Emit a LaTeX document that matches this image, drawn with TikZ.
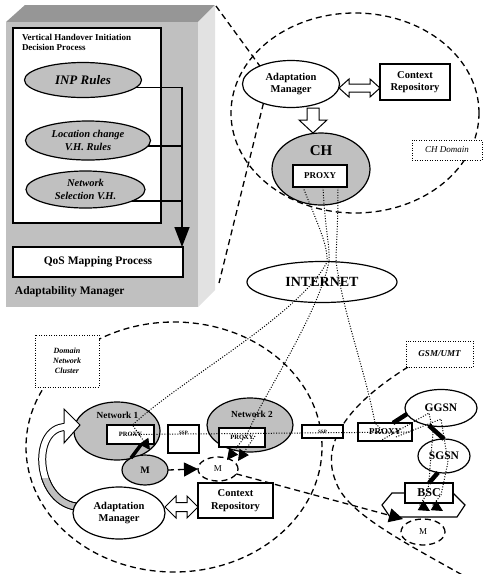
\documentclass[tikz,border=0pt]{standalone}
\usepackage{fontspec}
\setmainfont{Liberation Serif}
\usetikzlibrary{shapes.geometric,arrows.meta,calc}
\definecolor{gfill}{RGB}{192,192,192}
\definecolor{gtop}{RGB}{150,150,150}
\definecolor{gside}{RGB}{226,226,226}
\newcommand{\fsz}[2]{\fontsize{#1}{#2}\selectfont}
% hollow double arrow: x1 x2 y headhalf shafthalf headlength
\newcommand{\hdbl}[6]{\draw[fill=white, line width=1pt] (#1,#3) -- (#1+#6,#3-#4) -- (#1+#6,#3-#5) -- (#2-#6,#3-#5) -- (#2-#6,#3-#4) -- (#2,#3) -- (#2-#6,#3+#4) -- (#2-#6,#3+#5) -- (#1+#6,#3+#5) -- (#1+#6,#3+#4) -- cycle;}
\begin{document}
\begin{tikzpicture}[x=1pt,y=-1pt,
  every node/.style={inner sep=0pt, outer sep=0pt},
  ell/.style={ellipse, draw, line width=1.2pt},
  gell/.style={ell, fill=gfill},
  wbox/.style={rectangle, draw, fill=white, line width=1.2pt},
  dsh/.style={line width=1.3pt, dash pattern=on 6pt off 4pt},
  dotl/.style={line width=1pt, dash pattern=on 1pt off 1.6pt},
  lbox/.style={rectangle, draw, fill=white, line width=1pt, dash pattern=on 1pt off 1.5pt},
  thk/.style={line width=1.5pt},
  bfs/.style 2 args={font=\fsz{#1}{#2}\bfseries},
  arr/.style={-{Triangle[length=#1,width=#1]}},
]
\useasboundingbox (0,0) rectangle (483,574);
\clip (0,0) rectangle (483,574);
\fill[white] (0,0) rectangle (483,574);

% ---------- 3D box
\fill[gtop] (6,22) -- (25,5) -- (215,5) -- (198,22) -- cycle;
\fill[gside] (198,22) -- (215,5) -- (215,290) -- (198,307) -- cycle;
\fill[gfill] (6,22) rectangle (198,307);

% ---------- domain ellipses
\node[ell, dsh, minimum width=248, minimum height=200] (chdom) at (355,113) {};
\node[ell, dsh, minimum width=296, minimum height=250] (dnc) at (174,447) {};
\coordinate (gsm0) at (408,367);
\coordinate (gsm1) at (336,482);
\coordinate (gsm2) at (466,577);
\draw[dsh] (gsm0) .. controls (355,400) and (318,440) .. (gsm1) .. controls (346,512) and (400,540) .. (gsm2);

% ---------- left block
\node[wbox, minimum width=148, minimum height=195] (vh) at (87,125.5) {};
\node[anchor=north west, align=left, bfs={9}{10.5}] (vht) at (22,34) {Vertical Handover Initiation\\Decision Process};
\node[gell, minimum width=117, minimum height=35, font=\fsz{13}{14}\bfseries\itshape] (inp) at (83,80) {INP Rules};
\node[gell, minimum width=125, minimum height=39, align=center, font=\fsz{10.5}{12.5}\bfseries\itshape] (loc) at (88,140.5) {Location change\\V.H. Rules};
\node[gell, minimum width=119, minimum height=37, align=center, font=\fsz{10.5}{12.5}\bfseries\itshape] (nsel) at (85.5,189.5) {Network\\Selection V.H.};
\node[wbox, minimum width=170, minimum height=30, bfs={11.5}{13}] (qos) at (98,262) {QoS Mapping Process};
\node[anchor=west, bfs={11.5}{13}] (aml) at (15,292) {Adaptability Manager};
\coordinate (qa) at (182,247);
\draw[thk] (inp.-8) -- (inp.-8 -| qa);
\draw[thk] (loc.-5) -- (loc.-5 -| qa);
\draw[thk] (nsel.-14) -- (nsel.-14 -| qa);
\draw[thk, -{Triangle[length=20pt,width=15pt]}] (inp.-8 -| qa) -- (qa);

% ---------- CH domain
\node[ell, fill=white, minimum width=97, minimum height=47, align=center, bfs={10.5}{12.5}] (am1) at (291,84) {Adaptation\\Manager};
\node[wbox, minimum width=70, minimum height=36, align=center, bfs={10.5}{12.5}] (cr1) at (415,82) {Context\\Repository};
\hdbl{339}{380}{88}{9}{4}{10}
\draw[fill=white, line width=1pt] (307,108) -- (319,108) -- (319,120) -- (327,120) -- (313,133) -- (299,120) -- (307,120) -- cycle;
\node[gell, minimum width=98, minimum height=72] (ch) at (321,169) {};
\node[bfs={15}{16}] (cht) at (321,151) {CH};
\node[wbox, minimum width=54, minimum height=22, bfs={9}{10}] (chp) at (320,176) {PROXY};
\node[lbox, minimum width=70, minimum height=20, font=\fsz{9}{10}\itshape] (chdl) at (447,150) {CH Domain};
\node[ell, minimum width=150, minimum height=41, bfs={14}{15}] (inet) at (322,282) {INTERNET};
\coordinate (btr) at (216,6);
\coordinate (bbr) at (219,283);
\draw[dsh] (btr) -- (am1.150);
\draw[dsh] (am1.215) -- (bbr);

% ---------- domain network cluster
\node[lbox, minimum width=64, minimum height=52, align=center, font=\fsz{8}{10}\bfseries\itshape] (dncl) at (67,361) {Domain\\Network\\Cluster};
\coordinate (cs) at (80,507);
\draw[line width=1pt, double=white, double distance=6pt] (cs) .. controls (35,505) and (30,427) .. (66,427);
\begin{scope}
\clip (0,478) rectangle (76,530);
\draw[line width=1pt, double=gfill, double distance=6pt] (cs) .. controls (35,505) and (30,427) .. (66,427);
\end{scope}
\node[gell, minimum width=86, minimum height=58] (n1) at (117,431) {};
\fill[white] (64,409) -- (80,425) -- (64,443) -- cycle;
\draw[line width=1pt] (64,423.5) -- (64,409) -- (80,425) -- (64,443) -- (64,430.5);
\node[bfs={9.3}{10}] (n1t) at (117.5,415) {Network 1};
\node[wbox, minimum width=47, minimum height=19, bfs={6.5}{7}] (n1p) at (130.5,434.5) {PROXY};
\node[wbox, minimum width=31, minimum height=28] (ssp1) at (183.5,439) {};
\node[bfs={5}{6}] (ssp1t) at (183.5,433) {SSP};
\node[gell, minimum width=86, minimum height=54] (n2) at (250,425) {};
\node[bfs={9.3}{10}] (n2t) at (252,414) {Network 2};
\node[wbox, minimum width=46, minimum height=19, bfs={6.5}{7}] (n2p) at (242,437.5) {PROXY};
\node[gell, minimum width=46, minimum height=30, bfs={10}{11}] (m1) at (145,470) {M};
\node[ell, dsh, minimum width=40, minimum height=24, font=\fsz{9}{10}] (m2) at (218,469) {M};
\node[ell, fill=white, minimum width=92, minimum height=52, align=center, bfs={10.5}{12.5}] (am2) at (119,513) {Adaptation\\Manager};
\node[wbox, minimum width=75, minimum height=35, align=center, bfs={10.5}{12.5}] (cr2) at (235.5,500.5) {Context\\Repository};
\hdbl{165}{198}{507}{11}{4.5}{11}

% ---------- GSM/UMTS
\node[lbox, minimum width=67, minimum height=26, font=\fsz{9}{10}\bfseries\itshape] (gsml) at (439.5,354) {GSM/UMT};
\node[wbox, minimum width=41, minimum height=13, bfs={5}{6}] (ssp2) at (322.5,431.5) {SSP};
\node[wbox, minimum width=54, minimum height=18, bfs={9}{10}] (gp) at (385,432) {PROXY};
\node[ell, fill=white, minimum width=72, minimum height=37, bfs={11.5}{12}] (ggsn) at (441,408) {GGSN};
\node[ell, fill=white, minimum width=52, minimum height=34, bfs={11.5}{12}] (sgsn) at (444,456) {SGSN};
\draw[line width=1.2pt, fill=white] (382,505) -- (392,493) -- (453,493) -- (465,505) -- (457,517) -- (390,517) -- cycle;
\node[wbox, minimum width=48, minimum height=20, bfs={12}{13}] (bsc) at (429,493) {BSC};
\node[ell, dsh, minimum width=44, minimum height=26, font=\fsz{9}{10}] (m3) at (423,532) {M};
\draw[line width=4.5pt] ($(gp.north)+(8,0)$) -- (ggsn.190);
\draw[line width=4.5pt] (ggsn.-125) -- (sgsn.north);
\draw[line width=4.5pt] (sgsn.-110) -- (bsc.north);

% ---------- mobility links
\draw[line width=3.5pt] (m1.140) -- ($(n1p.south)+(11,0)$);
\draw[dsh, arr=14pt] (m1.east) -- (m2.west);
\coordinate (m3a) at (403,519);
\draw[dsh, arr=14pt] (m2.-15) -- (m3a);

% ---------- dotted data paths
\coordinate (n1a) at (150,450);
\draw[dotl, arr=11pt] ($(chp.south)+(-17,0)$) .. controls (318,225) and (328,245) .. (327,262) .. controls (300,315) and (180,380) .. ($(n1p.north)+(2,0)$) -- (n1a);
\coordinate (n2a) at (227,460);
\draw[dotl, arr=11pt] ($(chp.south)+(3,0)$) .. controls (325,230) and (330,245) .. (329,262) .. controls (318,310) and (280,370) .. (257,413) -- (247,434) -- (n2a);
\draw[dotl] ($(chp.south)+(18,0)$) .. controls (338,230) and (336,245) .. (336,262) .. controls (345,320) and (365,370) .. (375,423) -- (382,430);
\draw[dotl] (n1p.center) -- (gp.east);
\coordinate (n2b) at (238,461);
\draw[dotl, arr=11pt] (255,436) -- (n2b);
\coordinate (bsa) at (430,511);
\coordinate (bsb) at (443,511);
\draw[dotl, arr=11pt] (380,441) -- (429,413) -- (433,432) -- (428,492) -- (420,505) -- (bsa);
\draw[dotl, arr=11pt] (396,437) -- (441,419) -- (448,462) -- (441,495) -- (433,505) -- (bsb);
\end{tikzpicture}
\end{document}
